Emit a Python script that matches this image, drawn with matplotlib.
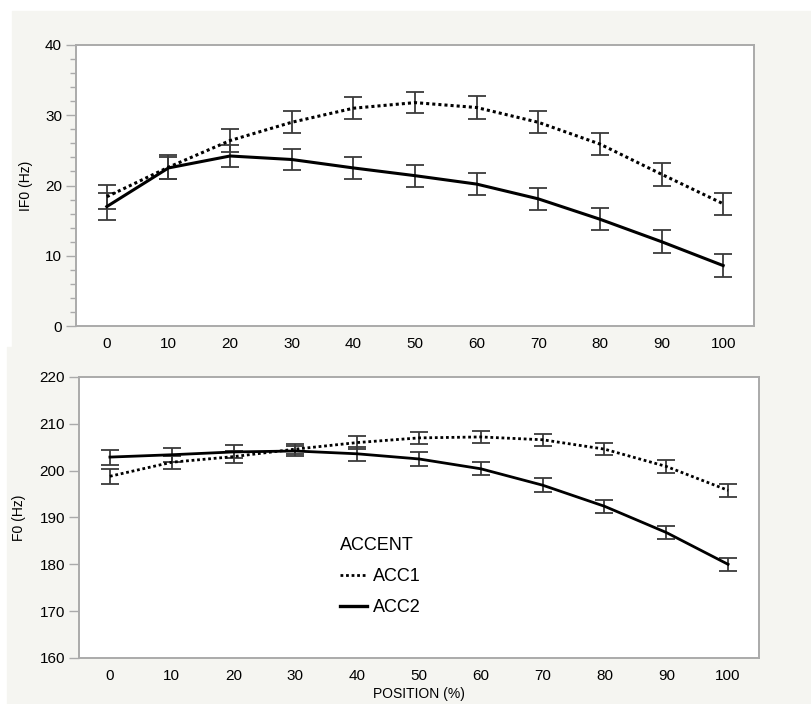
import matplotlib
matplotlib.use("Agg")
import matplotlib.pyplot as plt
from matplotlib.patches import Rectangle
from matplotlib.lines import Line2D
from matplotlib.ticker import MultipleLocator

plt.rcParams['font.family'] = ['Liberation Sans', 'DejaVu Sans']

position = [0, 10, 20, 30, 40, 50, 60, 70, 80, 90, 100]

# IF0 (top panel)
if0_acc1 = [18.4, 22.6, 26.4, 29.0, 31.0, 31.8, 31.1, 29.0, 25.9, 21.6, 17.4]
if0_acc1_err = [1.7, 1.7, 1.6, 1.55, 1.55, 1.55, 1.6, 1.55, 1.55, 1.65, 1.6]
if0_acc2 = [17.0, 22.5, 24.2, 23.7, 22.5, 21.4, 20.2, 18.1, 15.2, 12.0, 8.6]
if0_acc2_err = [1.9, 1.6, 1.6, 1.55, 1.55, 1.55, 1.6, 1.55, 1.55, 1.6, 1.6]

# F0 (bottom panel)
f0_acc1 = [198.8, 201.8, 203.0, 204.6, 206.0, 207.0, 207.2, 206.6, 204.6, 200.9, 195.8]
f0_acc1_err = [1.6, 1.4, 1.3, 1.1, 1.3, 1.3, 1.3, 1.3, 1.35, 1.4, 1.35]
f0_acc2 = [202.9, 203.4, 204.0, 204.2, 203.6, 202.5, 200.4, 196.9, 192.4, 186.8, 180.0]
f0_acc2_err = [1.6, 1.5, 1.4, 1.1, 1.45, 1.4, 1.4, 1.45, 1.4, 1.35, 1.45]

W, H = 811, 704
fig = plt.figure(figsize=(W / 100, H / 100), dpi=100)
bg = "#f5f5f1"
# two grey screenshot panels
fig.patches.append(Rectangle((12 / W, 1 - 347 / H), 1 - 12 / W, (347 - 11) / H,
                             transform=fig.transFigure, color=bg, zorder=-5))
fig.patches.append(Rectangle((7 / W, 0), 1 - 7 / W, 1 - 347 / H,
                             transform=fig.transFigure, color=bg, zorder=-5))

ax1 = fig.add_axes([76 / W, 1 - 326 / H, (754 - 76) / W, (326 - 45) / H])
ax2 = fig.add_axes([79 / W, 1 - 658 / H, (759 - 79) / W, (658 - 377) / H])

spine_col = "#aaaaaa"
ebar_col = "#3a3a3a"


def draw(ax, m1, e1, m2, e2, lw):
    ax.errorbar(position, m1, yerr=e1, fmt="none", ecolor=ebar_col,
                elinewidth=1.3, capsize=6.5, capthick=1.3, zorder=2)
    ax.errorbar(position, m2, yerr=e2, fmt="none", ecolor=ebar_col,
                elinewidth=1.3, capsize=6.5, capthick=1.3, zorder=2)
    ax.plot(position, m1, color="black", lw=lw, linestyle=(0, (1, 1)), zorder=3)
    ax.plot(position, m2, color="black", lw=lw, linestyle="-", zorder=3)
    ax.set_xlim(-5, 105)
    ax.set_xticks(position)
    ax.tick_params(axis="x", length=0, pad=8, labelsize=11)
    ax.tick_params(axis="y", length=7, width=1, color=spine_col, labelsize=11, pad=3)
    for s in ax.spines.values():
        s.set_color(spine_col)
        s.set_linewidth(1.4)
    ax.set_facecolor("white")


draw(ax1, if0_acc1, if0_acc1_err, if0_acc2, if0_acc2_err, 2.2)
ax1.set_ylim(0, 40)
ax1.set_yticks([0, 10, 20, 30, 40])
ax1.yaxis.set_minor_locator(MultipleLocator(2))
ax1.tick_params(axis="y", which="minor", length=4, width=1, color=spine_col)
ax1.set_ylabel("IF0 (Hz)", fontsize=10, labelpad=9)

draw(ax2, f0_acc1, f0_acc1_err, f0_acc2, f0_acc2_err, 2.0)
ax2.set_ylim(160, 220)
ax2.set_yticks([160, 170, 180, 190, 200, 210, 220])
ax2.set_ylabel("F0 (Hz)", fontsize=10, labelpad=10)
ax2.set_xlabel("POSITION (%)", fontsize=10, labelpad=3)

handles = [Line2D([], [], color="black", lw=2.0, linestyle=(0, (1, 1))),
           Line2D([], [], color="black", lw=2.4, linestyle="-")]
leg = ax2.legend(handles, ["ACC1", "ACC2"], title="ACCENT", frameon=False,
                 loc="upper left", bbox_to_anchor=(0.36, 0.49), fontsize=13,
                 title_fontsize=13, handlelength=1.5, handletextpad=0.3,
                 labelspacing=0.8, alignment="left")

fig.savefig("out.png", dpi=100, facecolor="white")
